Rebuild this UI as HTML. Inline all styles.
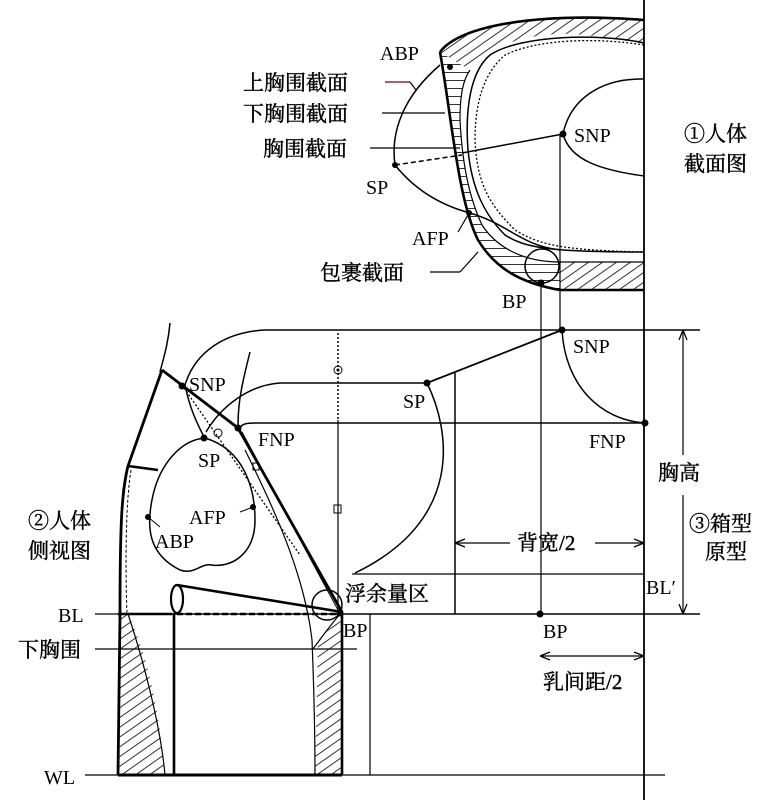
<!DOCTYPE html>
<html><head><meta charset="utf-8"><style>
html,body{margin:0;padding:0;background:#fff}
svg{display:block}
.c{font-family:"Liberation Serif","Noto Serif CJK SC","Noto Sans CJK SC",serif;font-size:21px;fill:#000;stroke:#000;stroke-width:0.4}
.l{font-family:"Liberation Serif",serif;font-size:20px;fill:#000}
</style></head><body>
<svg width="772" height="800" viewBox="0 0 772 800" xmlns="http://www.w3.org/2000/svg">
<defs>
<pattern id="h" patternUnits="userSpaceOnUse" width="8" height="8" patternTransform="rotate(-35)">
<line x1="0" y1="0" x2="8" y2="0" stroke="#000" stroke-width="1.6"/>
</pattern>
<pattern id="hh" patternUnits="userSpaceOnUse" width="8" height="8">
<line x1="0" y1="0" x2="8" y2="0" stroke="#000" stroke-width="1.6"/>
</pattern>
<marker id="a" viewBox="0 0 10 10" refX="10" refY="5" markerWidth="10" markerHeight="10" orient="auto-start-reverse" markerUnits="userSpaceOnUse"><path d="M0 1 L10 5 L0 9" fill="none" stroke="#000" stroke-width="1.3"/></marker>
</defs>
<g fill="none" stroke="#000" stroke-width="1.5">
<line x1="644" y1="0" x2="644" y2="800" stroke-width="1.8"/>

<!-- ===== TOP cross-section ===== -->
<path d="M440 52 C460 25 540 12 644 20 L644 43 C610 40 590 33 560 34 C520 35 480 50 470 70 Z" fill="url(#h)" stroke="none"/>
<path d="M440 52 C452 120 458 200 478 240 C495 268 520 283 560 290 L560 262 C520 262 495 245 482 225 C468 195 462 160 460 120 C460 95 463 80 470 70 Z" fill="url(#hh)" stroke="none"/>
<path d="M560 262 C590 262 620 262 644 262 L644 290 L560 290 Z" fill="url(#h)" stroke="none"/>
<path d="M440 52 C460 25 540 12 644 20" stroke-width="2.6"/>
<path d="M440 52 C452 120 458 200 478 240 C495 268 520 283 560 290 L644 290" stroke-width="2.6"/>
<path d="M470 70 C463 80 460 95 460 120 C462 160 468 195 482 225 C495 245 520 262 560 262 L644 262" stroke-width="1.2"/>
<path d="M644 43 C600 33 520 35 490 55 C470 72 465 110 468 150 C472 190 485 215 505 235 C525 248 550 252 644 252"/>
<path d="M644 45 C600 38 540 38 505 55 C485 72 475 100 475 140 C477 185 490 205 515 230 C540 245 560 250 644 252" stroke-dasharray="2 2" stroke-width="1.3"/>
<path d="M644 79 C600 78 570 100 563 134 C570 160 600 170 644 176"/>
<path d="M440 65 C405 95 390 130 395 165 C415 190 440 205 470 213 C510 225 520 245 560 250"/>
<line x1="563" y1="134" x2="462" y2="153"/>
<line x1="395" y1="165" x2="462" y2="155" stroke-dasharray="5 3"/>
<circle cx="542" cy="266" r="17"/>
<line x1="541" y1="283" x2="541" y2="614" stroke-width="1.2"/>
<line x1="560" y1="134" x2="560" y2="330" stroke-width="1.2"/>
<line x1="385" y1="82" x2="410" y2="82" stroke="#800" stroke-width="1.2"/>
<line x1="410" y1="82" x2="416" y2="90" stroke-width="1.2"/>
<line x1="382" y1="113" x2="445" y2="113" stroke-width="1.2"/>
<line x1="370" y1="148" x2="460" y2="148" stroke-width="1.2"/>
<line x1="430" y1="272" x2="460" y2="272" stroke-width="1.2"/>
<line x1="460" y1="272" x2="478" y2="252" stroke-width="1.2"/>
<line x1="458" y1="232" x2="468" y2="215" stroke-width="1.2"/>

<!-- ===== PATTERN (right) ===== -->
<path d="M700 330 H265 C225 332 195 352 185 385 C190 410 198 425 204 437"/>
<path d="M427 383 H280 C250 385 222 405 206 432"/>
<path d="M250 352 C243 380 238 400 238 425"/>
<path d="M240 428 C242 424 246 423 255 423 H645"/>
<path d="M562 330 C565 385 600 420 645 423"/>
<line x1="562" y1="330" x2="427" y2="383" stroke-width="1.8"/>
<path d="M427 383 C450 430 465 520 355 573"/>
<line x1="455" y1="373" x2="455" y2="614"/>
<line x1="338" y1="333" x2="338" y2="420" stroke-dasharray="2 2"/>
<line x1="338" y1="420" x2="338" y2="614" stroke-width="1.2"/>
<circle cx="338" cy="370" r="4" stroke-width="1"/>
<circle cx="338" cy="370" r="0.8" fill="#000"/>
<rect x="334" y="505" width="7" height="8" stroke-width="1"/>
<line x1="352" y1="574" x2="644" y2="574" stroke-width="1.2"/>
<line x1="455" y1="543" x2="510" y2="543" stroke-width="1.2" marker-start="url(#a)"/>
<line x1="595" y1="543" x2="644" y2="543" stroke-width="1.2" marker-end="url(#a)"/>
<line x1="95" y1="614" x2="118" y2="614" stroke-width="1.2"/>
<line x1="118" y1="614" x2="700" y2="614" stroke-width="1.6"/>
<line x1="683" y1="330" x2="683" y2="455" stroke-width="1.2" marker-start="url(#a)"/>
<line x1="683" y1="495" x2="683" y2="614" stroke-width="1.2" marker-end="url(#a)"/>
<line x1="540" y1="656" x2="644" y2="656" stroke-width="1.2" marker-start="url(#a)" marker-end="url(#a)"/>
<line x1="85" y1="775" x2="665" y2="775" stroke-width="1.2"/>
<line x1="370" y1="614" x2="370" y2="775" stroke-width="1.2"/>
<line x1="95" y1="649" x2="357" y2="649" stroke-width="1.2"/>

<!-- ===== SIDE VIEW (left) ===== -->
<path d="M170 323 C168 345 163 360 160 372"/>
<path d="M120 614 L118 775 L165 775 C160 720 150 660 128 614 Z" fill="url(#h)" stroke="none"/>
<path d="M128 614 C140 650 160 720 165 775" stroke-width="1.2"/>
<path d="M318 640 L315 775 L342 775 L342 614 C335 625 325 632 318 640 Z" fill="url(#h)" stroke="none"/>
<path d="M245 450 C280 520 305 580 312 640 C314 690 315 740 315 775" stroke-width="1.2"/>
<path d="M162 370 L128 466 C122 490 120 520 120 614 L118 775" stroke-width="2.8"/>
<path d="M131 470 C126 500 125 560 127 614" stroke-dasharray="3 2" stroke-width="1"/>
<line x1="128" y1="466" x2="158" y2="470" stroke-width="2.6"/>
<path d="M162 370 L238 428 L342 612" stroke-width="2.8"/>
<path d="M242 432 L338 610" stroke-width="1"/>
<path d="M184 388 L300 555" stroke-dasharray="2 2" stroke-width="1.3"/>
<path d="M205 438 C180 440 160 465 153 495 C145 530 150 555 180 570 C195 575 200 563 212 565 C230 568 255 555 255 520 C255 490 245 450 205 438 Z"/>
<line x1="148" y1="517" x2="160" y2="527" stroke-width="1"/>
<line x1="253" y1="507" x2="240" y2="512" stroke-width="1"/>
<circle cx="218" cy="433" r="4" stroke-width="1"/>
<rect x="253" y="463" width="6" height="7" stroke-width="1"/>
<ellipse cx="177" cy="599" rx="6" ry="14" stroke-width="2.2"/>
<line x1="177" y1="585" x2="342" y2="612" stroke-width="2.6"/>
<line x1="177" y1="614" x2="340" y2="614" stroke-width="2.4" stroke-dasharray="6 3"/>
<line x1="118" y1="614" x2="172" y2="614" stroke-width="2.4"/>
<line x1="174" y1="613" x2="174" y2="775" stroke-width="2.6"/>
<circle cx="327" cy="605" r="15"/>
<path d="M342 612 C330 625 320 640 312 650" stroke-width="1.2"/>
<line x1="342" y1="612" x2="342" y2="775" stroke-width="2.6"/>
<line x1="118" y1="775" x2="342" y2="775" stroke-width="3"/>
</g>
<g fill="#000">
<circle cx="563" cy="134" r="3.5"/><circle cx="395" cy="165" r="3"/><circle cx="450" cy="67" r="3"/>
<circle cx="469" cy="213" r="3"/><circle cx="541" cy="283" r="3.5"/>
<circle cx="562" cy="330" r="3.5"/><circle cx="645" cy="423" r="3.5"/><circle cx="427" cy="383" r="3.5"/>
<circle cx="540" cy="614" r="3.5"/>
<circle cx="182" cy="386" r="3.5"/><circle cx="238" cy="428" r="3.5"/><circle cx="204" cy="438" r="3.5"/>
<circle cx="148" cy="517" r="3"/><circle cx="253" cy="507" r="3"/><circle cx="340" cy="613" r="3.5"/>
</g>
<g>
<text class="l" x="380" y="60">ABP</text>
<text class="c" x="243" y="90">上胸围截面</text>
<text class="c" x="243" y="121">下胸围截面</text>
<text class="c" x="263" y="156">胸围截面</text>
<text class="l" x="366" y="194">SP</text>
<text class="l" x="412" y="245">AFP</text>
<text class="c" x="320" y="280">包裹截面</text>
<text class="l" x="502" y="308">BP</text>
<text class="l" x="574" y="142">SNP</text>
<text class="c" x="684" y="141">①人体</text>
<text class="c" x="684" y="171">截面图</text>
<text class="l" x="573" y="353">SNP</text>
<text class="l" x="589" y="448">FNP</text>
<text class="l" x="403" y="408">SP</text>
<text class="c" x="658" y="480">胸高</text>
<text class="c" x="689" y="531">③箱型</text>
<text class="c" x="705" y="559">原型</text>
<text class="c" x="517" y="550">背宽/2</text>
<text class="l" x="646" y="594">BL′</text>
<text class="c" x="345" y="601">浮余量区</text>
<text class="l" x="543" y="638">BP</text>
<text class="c" x="543" y="689">乳间距/2</text>
<text class="l" x="189" y="391">SNP</text>
<text class="l" x="258" y="446">FNP</text>
<text class="l" x="198" y="467">SP</text>
<text class="l" x="189" y="524">AFP</text>
<text class="l" x="155" y="548">ABP</text>
<text class="c" x="28" y="528">②人体</text>
<text class="c" x="28" y="558">侧视图</text>
<text class="l" x="58" y="622">BL</text>
<text class="c" x="18" y="657">下胸围</text>
<text class="l" x="44" y="784">WL</text>
<text class="l" x="343" y="637">BP</text>
</g>
</svg>
</body></html>
